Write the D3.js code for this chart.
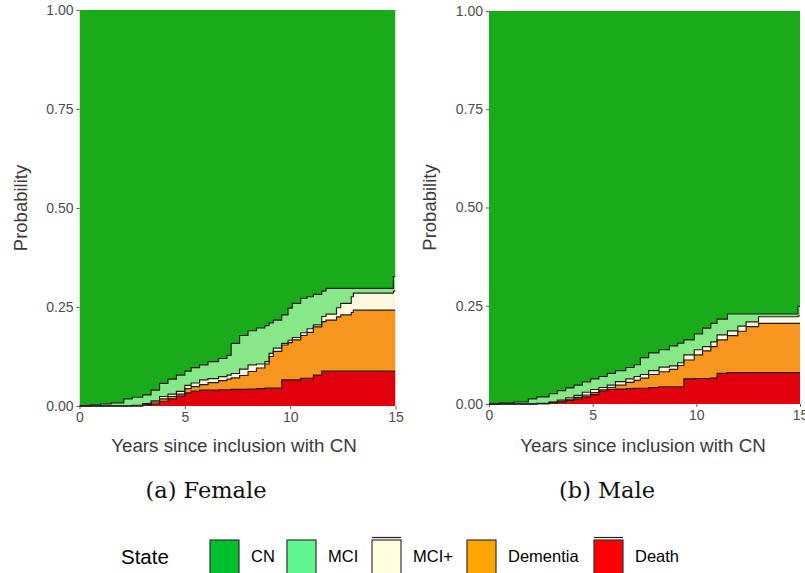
<!DOCTYPE html>
<html>
<head>
<meta charset="utf-8">
<script src="https://cdn.jsdelivr.net/npm/d3@7"></script>
<style>
  html, body { margin: 0; padding: 0; background: #fff; }
  svg { display: block; }
</style>
</head>
<body>
<svg id="chart" width="805" height="573"></svg>
<script>
// State occupation probabilities over time (step functions), by sex.
const stateKeys = ["death", "dementia", "mciPlus", "mci"];
const stateNames = ["CN", "MCI", "MCI+", "Dementia", "Death"];
const yTicks = [0, 0.25, 0.5, 0.75, 1];
const xTicks = [0, 5, 10, 15];

// Female
const femaleTime     = [0, 0.5, 1.0, 1.5, 2.1, 2.5, 3.0, 3.4, 3.8, 4.2, 4.6, 5.0, 5.3, 5.7, 6.1, 6.6, 7.0, 7.2, 7.6, 8.0, 8.4, 8.8, 9.0, 9.2, 9.6, 9.9, 10.1, 10.5, 10.8, 11.1, 11.5, 11.7, 12.2, 12.4, 12.9, 13.0, 14.9, 15];
const femaleDeath    = [0, 0, 0, 0, 0, 0, 0.002, 0.005, 0.012, 0.018, 0.025, 0.033, 0.038, 0.040, 0.040, 0.041, 0.041, 0.042, 0.042, 0.043, 0.044, 0.045, 0.045, 0.045, 0.066, 0.066, 0.066, 0.070, 0.070, 0.078, 0.088, 0.088, 0.088, 0.088, 0.088, 0.088, 0.088, 0.088];
const femaleDementia = [0, 0, 0, 0, 0, 0, 0.002, 0.005, 0.006, 0.006, 0.005, 0.011, 0.011, 0.014, 0.019, 0.023, 0.027, 0.029, 0.035, 0.044, 0.052, 0.061, 0.080, 0.093, 0.088, 0.094, 0.101, 0.108, 0.116, 0.122, 0.125, 0.129, 0.137, 0.142, 0.148, 0.154, 0.154, 0.154];
const femaleMciPlus  = [0, 0, 0, 0, 0, 0.002, 0.002, 0.003, 0.006, 0.006, 0.007, 0.008, 0.009, 0.012, 0.010, 0.010, 0.010, 0.011, 0.016, 0.017, 0.010, 0.006, 0.008, 0.008, 0.004, 0.006, 0.006, 0.007, 0.009, 0.005, 0.013, 0.015, 0.023, 0.029, 0.040, 0.043, 0.048, 0.048];
const femaleMci      = [0, 0.003, 0.005, 0.008, 0.018, 0.020, 0.022, 0.027, 0.033, 0.038, 0.041, 0.036, 0.039, 0.038, 0.043, 0.046, 0.050, 0.076, 0.085, 0.086, 0.091, 0.091, 0.077, 0.071, 0.072, 0.081, 0.086, 0.087, 0.081, 0.077, 0.064, 0.065, 0.049, 0.038, 0.021, 0.012, 0.037, 0.037];

// Male
const maleTime     = [0, 0.5, 1.2, 1.9, 2.3, 2.9, 3.3, 3.7, 4.1, 4.5, 4.9, 5.3, 5.7, 6.1, 6.6, 7.0, 7.3, 7.7, 8.2, 8.7, 9.1, 9.4, 9.9, 10.3, 10.7, 11.0, 11.5, 12.0, 12.4, 13.0, 14.9, 15];
const maleDeath    = [0, 0, 0, 0, 0.001, 0.003, 0.005, 0.009, 0.013, 0.018, 0.024, 0.033, 0.037, 0.038, 0.039, 0.040, 0.040, 0.042, 0.044, 0.044, 0.044, 0.064, 0.065, 0.065, 0.066, 0.078, 0.080, 0.080, 0.080, 0.080, 0.080, 0.080];
const maleDementia = [0, 0, 0, 0, 0, 0.001, 0.002, 0.003, 0.004, 0.005, 0.005, 0.003, 0.005, 0.010, 0.016, 0.020, 0.026, 0.033, 0.038, 0.044, 0.054, 0.048, 0.060, 0.070, 0.080, 0.085, 0.094, 0.105, 0.117, 0.125, 0.125, 0.125];
const maleMciPlus  = [0, 0, 0, 0, 0.001, 0.001, 0.003, 0.004, 0.005, 0.007, 0.008, 0.006, 0.006, 0.009, 0.009, 0.010, 0.009, 0.010, 0.012, 0.009, 0.007, 0.013, 0.013, 0.011, 0.012, 0.013, 0.012, 0.013, 0.012, 0.017, 0.019, 0.019];
const maleMci      = [0, 0.003, 0.005, 0.013, 0.016, 0.021, 0.024, 0.025, 0.026, 0.026, 0.027, 0.028, 0.030, 0.028, 0.029, 0.030, 0.043, 0.045, 0.044, 0.051, 0.050, 0.038, 0.040, 0.047, 0.047, 0.040, 0.043, 0.031, 0.020, 0.007, 0.024, 0.024];

// Fill colours for the plotted areas and for the legend keys
const areaFill = { cn: "#1aab1b", mci: "#86e886", mciPlus: "#fdf9de", dementia: "#f8951c", death: "#e2000c" };
const keyFill  = ["#00c02c", "#5ff78e", "#fffee0", "#ffa502", "#fe0000"];

const panels = [
  { caption: "(a) Female", time: femaleTime, death: femaleDeath, dementia: femaleDementia, mciPlus: femaleMciPlus, mci: femaleMci,
    left: 79.5, right: 395.5, top: 10, bottom: 406, titleX: 234, captionX: 206 },
  { caption: "(b) Male", time: maleTime, death: maleDeath, dementia: maleDementia, mciPlus: maleMciPlus, mci: maleMci,
    left: 489, right: 800, top: 11, bottom: 404, titleX: 643, captionX: 607 }
];

const svg = d3.select("#chart");
const sans = "'Liberation Sans', Arial, Helvetica, sans-serif";

panels.forEach((p, pi) => {
  const rows = p.time.map((t, i) => ({
    t, death: p.death[i], dementia: p.dementia[i], mciPlus: p.mciPlus[i], mci: p.mci[i]
  }));
  const x = d3.scaleLinear().domain([0, 15]).range([p.left, p.right]);
  const y = d3.scaleLinear().domain([0, 1]).range([p.bottom, p.top]);
  const series = d3.stack().keys(stateKeys)(rows);

  const g = svg.append("g").attr("class", "panel-" + pi);
  const clipId = "clip" + pi;
  svg.append("clipPath").attr("id", clipId)
    .append("rect").attr("x", p.left).attr("y", p.top - 1)
    .attr("width", p.right - p.left).attr("height", p.bottom - p.top + 2);
  const plot = g.append("g").attr("clip-path", `url(#${clipId})`);

  const area = d3.area().curve(d3.curveStepAfter)
    .x(d => x(d.data.t)).y0(d => y(d[0])).y1(d => y(d[1]));
  const upper = d3.line().curve(d3.curveStepAfter)
    .x(d => x(d.data.t)).y(d => y(d[1]));

  // CN fills the remaining probability above the stacked states
  const top = series[series.length - 1];
  plot.append("path")
    .attr("d", d3.area().curve(d3.curveStepAfter)
      .x(d => x(d.data.t)).y0(d => y(d[1])).y1(y(1))(top))
    .attr("fill", areaFill.cn);

  series.slice().reverse().forEach(s => {
    plot.append("path").attr("d", area(s)).attr("fill", areaFill[s.key]);
  });
  series.slice().reverse().forEach(s => {
    plot.append("path").attr("d", upper(s))
      .attr("fill", "none").attr("stroke", "#1c1c1c")
      .attr("stroke-width", 1.15).attr("stroke-linejoin", "miter");
  });

  // Axes
  const yAxis = g.append("g").attr("transform", `translate(${p.left},0)`)
    .call(d3.axisLeft(y).tickValues(yTicks).tickFormat(d3.format(".2f")).tickSize(3).tickPadding(3));
  const xAxis = g.append("g").attr("transform", `translate(0,${p.bottom})`)
    .call(d3.axisBottom(x).tickValues(xTicks).tickFormat(d3.format("d")).tickSize(3).tickPadding(3));
  [yAxis, xAxis].forEach(a => {
    a.select(".domain").remove();
    a.selectAll(".tick line").attr("stroke", "#333").attr("stroke-width", 0.8);
    a.selectAll(".tick text").attr("fill", "#4d4d4d")
      .style("font-family", sans).style("font-size", "14px");
  });

  // Axis titles
  g.append("text")
    .attr("transform", `translate(${p.left - 59},${(p.top + p.bottom) / 2}) rotate(-90)`)
    .attr("text-anchor", "middle").attr("dy", "0.35em")
    .style("font-family", sans).style("font-size", "18.5px").attr("fill", "#3a3a3a")
    .text("Probability");
  g.append("text")
    .attr("x", p.titleX).attr("y", 452)
    .attr("text-anchor", "middle")
    .style("font-family", sans).style("font-size", "18.8px").attr("fill", "#3a3a3a")
    .text("Years since inclusion with CN");

  // Sub-caption
  g.append("text")
    .attr("x", p.captionX).attr("y", 498)
    .attr("text-anchor", "middle")
    .style("font-family", "'DejaVu Serif', 'Liberation Serif', serif").style("font-size", "22.5px")
    .attr("fill", "#111")
    .text(p.caption);
});

// Legend
const legend = svg.append("g").attr("class", "legend");
legend.append("text").attr("x", 121).attr("y", 564)
  .style("font-family", sans).style("font-size", "20.5px").attr("fill", "#000").text("State");
const keyX = [210, 287, 372, 467, 594];
stateNames.forEach((name, i) => {
  const k = legend.append("g");
  k.append("rect").attr("x", keyX[i]).attr("y", 540).attr("width", 29).attr("height", 34)
    .attr("fill", keyFill[i]).attr("stroke", "#333").attr("stroke-width", 1.2);
  if (name === "MCI+" || name === "Death") {
    k.append("line").attr("x1", keyX[i]).attr("x2", keyX[i] + 29)
      .attr("y1", 537.5).attr("y2", 537.5).attr("stroke", "#222").attr("stroke-width", 1.2);
  }
  k.append("text").attr("x", keyX[i] + 41).attr("y", 562)
    .style("font-family", sans).style("font-size", "16.5px").attr("fill", "#000").text(name);
});
</script>
</body>
</html>
